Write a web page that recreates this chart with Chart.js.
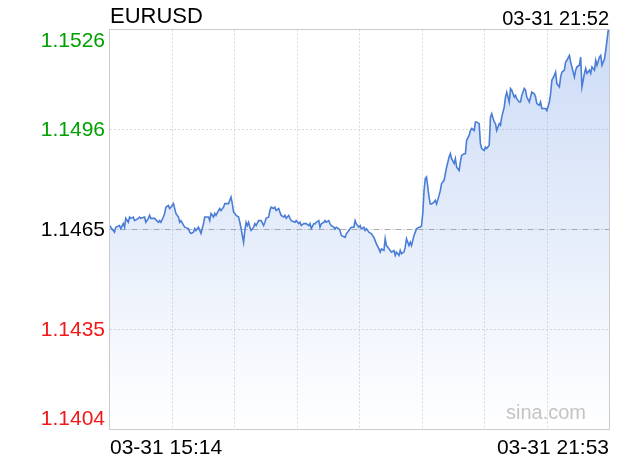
<!DOCTYPE html>
<html>
<head>
<meta charset="utf-8">
<title>EURUSD</title>
<script src="https://cdn.jsdelivr.net/npm/chart.js@4/dist/chart.umd.min.js"></script>
<style>
  body { margin: 0; background: #fff; }
  canvas { display: block; }
</style>
</head>
<body>
<canvas id="fx-chart" width="620" height="460"></canvas>
<script>
// Chart texts
const symbol = "EURUSD";
const lastTime = "03-31 21:52";
const xTickLabels = ["03-31 15:14", "03-31 21:53"];
const yTickLabels = ["1.1526", "1.1496", "1.1465", "1.1435", "1.1404"];

// Axis range and previous close
const yMax = 1.15262;
const yMin = 1.14042;
const prevClose = 1.14652;
const totalMinutes = 399;

// Minutes after 15:14
const minutes = [
  0,1,4,5,8,9,11,12,13,15,
  16,17,19,20,23,24,25,28,29,31,
  32,33,36,39,40,41,43,44,45,47,
  48,49,51,52,53,55,56,57,60,63,
  64,65,67,68,69,71,73,75,76,79,
  80,81,83,84,85,87,88,89,91,92,
  95,96,97,98,99,100,101,103,104,105,
  107,108,109,110,111,112,113,115,116,117,
  119,121,123,124,125,127,128,129,131,132,
  133,135,136,137,139,140,141,143,144,145,
  148,149,151,152,153,155,157,159,160,161,
  163,
  164,165,167,168,169,171,172,173,175,176,
  177,179,180,181,183,184,185,188,189,191,
  192,193,195,196,197,199,200,201,203,204,
  205,207,209,211,212,213,215,216,217,219,
  220,221,223,224,225,227,228,229,231,232,
  233,235,236,237,239,240,241,243,244,245,
  247,
  248,249,250,251,252,253,254,255,256,257,
  259,260,261,263,264,265,267,268,269,271,
  272,273,275,276,277,279,280,281,283,284,
  285,287,288,289,291,292,293,295,296,297,
  299,300,301,303,304,305,307,308,309,311,
  312,313,315,
  316,317,319,320,321,323,324,325,327,328,
  329,331,332,333,335,336,337,339,340,341,
  343,344,345,347,348,349,351,352,353,355,
  356,357,359,360,361,363,364,365,367,368,
  369,371,372,373,375,376,377,379,380,381,
  383,384,385,387,388,389,391,392,393,395,
  396,397,398,399
];

// EURUSD price at each minute
const prices = [
  1.14664,1.14659,1.14644,1.14659,1.14664,1.14655,1.14670,1.14659,1.14686,1.14674,
  1.14690,1.14686,1.14690,1.14679,1.14686,1.14690,1.14686,1.14690,1.14674,1.14686,
  1.14695,1.14686,1.14686,1.14674,1.14679,1.14674,1.14690,1.14701,1.14720,1.14725,
  1.14716,1.14720,1.14731,1.14716,1.14701,1.14690,1.14674,1.14679,1.14659,1.14655,
  1.14644,1.14640,1.14644,1.14655,1.14649,1.14659,1.14640,1.14670,1.14690,1.14690,
  1.14679,1.14701,1.14690,1.14701,1.14695,1.14710,1.14716,1.14710,1.14720,1.14731,
  1.14731,1.14741,1.14751,1.14731,1.14705,1.14701,1.14695,1.14690,1.14674,1.14655,
  1.14613,1.14649,1.14674,1.14664,1.14674,1.14659,1.14649,1.14659,1.14670,1.14664,
  1.14679,1.14679,1.14664,1.14674,1.14686,1.14690,1.14710,1.14720,1.14716,1.14720,
  1.14710,1.14716,1.14705,1.14695,1.14690,1.14695,1.14686,1.14695,1.14686,1.14679,
  1.14674,1.14679,1.14670,1.14674,1.14664,1.14670,1.14670,1.14664,1.14670,1.14655,
  1.14670,
  1.14669,1.14674,1.14679,1.14659,1.14669,1.14674,1.14679,1.14674,1.14679,1.14669,
  1.14664,1.14659,1.14654,1.14659,1.14654,1.14649,1.14634,1.14628,1.14639,1.14649,
  1.14654,1.14659,1.14659,1.14679,1.14669,1.14659,1.14664,1.14654,1.14659,1.14649,
  1.14654,1.14644,1.14639,1.14628,1.14618,1.14608,1.14593,1.14583,1.14593,1.14588,
  1.14624,1.14603,1.14593,1.14588,1.14583,1.14588,1.14573,1.14583,1.14573,1.14588,
  1.14578,1.14583,1.14598,1.14624,1.14603,1.14613,1.14603,1.14634,1.14644,1.14654,
  1.14659,
  1.14659,1.14664,1.14701,1.14771,1.14807,1.14812,1.14781,1.14751,1.14730,1.14730,
  1.14735,1.14741,1.14730,1.14756,1.14771,1.14792,1.14802,1.14822,1.14842,1.14873,
  1.14883,1.14868,1.14853,1.14868,1.14842,1.14832,1.14858,1.14878,1.14883,1.14883,
  1.14924,1.14939,1.14954,1.14960,1.14954,1.14980,1.14980,1.14975,1.14914,1.14899,
  1.14893,1.14903,1.14899,1.14909,1.14995,1.15005,1.14980,1.14975,1.14954,1.14975,
  1.14970,1.14995,1.15026,
  1.15056,1.15071,1.15041,1.15082,1.15077,1.15056,1.15061,1.15051,1.15041,1.15041,
  1.15061,1.15082,1.15077,1.15056,1.15041,1.15056,1.15071,1.15066,1.15056,1.15036,
  1.15031,1.15041,1.15021,1.15021,1.15021,1.15015,1.15041,1.15066,1.15107,1.15122,
  1.15132,1.15097,1.15087,1.15117,1.15132,1.15138,1.15163,1.15168,1.15183,1.15163,
  1.15148,1.15117,1.15138,1.15148,1.15153,1.15178,1.15087,1.15128,1.15143,1.15128,
  1.15138,1.15128,1.15148,1.15138,1.15168,1.15153,1.15178,1.15183,1.15153,1.15173,
  1.15199,1.15229,1.15260,1.15255
];

const FONT = 'Arial, "Liberation Sans", sans-serif';
const GRID = "#d9d9d9";

// Frame, previous close line and all the texts
const decorations = {
  id: "decorations",
  beforeDatasetsDraw(chart) {
    const ctx = chart.ctx;
    const area = chart.chartArea;
    const y = Math.floor(chart.scales.y.getPixelForValue(prevClose)) + 0.5;
    ctx.save();
    ctx.strokeStyle = "#ababab";
    ctx.lineWidth = 1;
    ctx.setLineDash([6, 2, 1, 2]);
    ctx.beginPath();
    ctx.moveTo(area.left, y);
    ctx.lineTo(area.right, y);
    ctx.stroke();
    ctx.restore();
  },
  afterDraw(chart) {
    const ctx = chart.ctx;
    const area = chart.chartArea;
    const yScale = chart.scales.y;
    ctx.save();

    // frame
    ctx.strokeStyle = "#cccccc";
    ctx.lineWidth = 1;
    ctx.strokeRect(area.left, area.top, area.right - area.left, area.bottom - area.top);

    // header
    ctx.fillStyle = "#000";
    ctx.textBaseline = "alphabetic";
    ctx.font = "22px " + FONT;
    ctx.textAlign = "left";
    ctx.fillText(symbol, 110, 23);
    ctx.font = "20px " + FONT;
    ctx.textAlign = "right";
    ctx.fillText(lastTime, 609, 25);

    // x labels
    ctx.font = "21px " + FONT;
    ctx.textAlign = "left";
    ctx.fillText(xTickLabels[0], 110, 454);
    ctx.textAlign = "right";
    ctx.fillText(xTickLabels[1], 609, 454);

    // y labels, green above previous close, red below
    const shift = [17, 6, 6, 6, -5];
    yScale.ticks.forEach((t, i) => {
      const label = yTickLabels[i];
      const v = parseFloat(label);
      ctx.fillStyle = v > 1.1465 ? "#00a000" : v < 1.1465 ? "#f01818" : "#000";
      ctx.fillText(label, 105, yScale.getPixelForValue(t.value) + shift[i]);
    });

    // watermark
    ctx.fillStyle = "#c4c4c4";
    ctx.font = "20px " + FONT;
    ctx.textAlign = "left";
    ctx.fillText("sina.com", 506, 419);
    ctx.restore();
  }
};

const points = minutes.map((m, i) => ({ x: m, y: prices[i] }));

new Chart(document.getElementById("fx-chart"), {
  type: "line",
  data: {
    datasets: [
      {
        data: points,
        borderColor: "#4a7ed6",
        borderWidth: 1.6,
        pointRadius: 0,
        tension: 0,
        fill: "start",
        backgroundColor: (c) => {
          const area = c.chart.chartArea;
          if (!area) return "rgba(120,160,230,0.2)";
          const g = c.chart.ctx.createLinearGradient(0, area.top, 0, area.bottom);
          g.addColorStop(0, "rgba(120,160,230,0.38)");
          g.addColorStop(1, "rgba(120,160,230,0)");
          return g;
        },
      },
    ],
  },
  options: {
    responsive: false,
    animation: false,
    devicePixelRatio: 1,
    layout: { padding: { left: 109.5, right: 10.5, top: 29.5, bottom: 30.5 } },
    plugins: { legend: { display: false }, tooltip: { enabled: false } },
    scales: {
      x: {
        type: "linear",
        min: 0,
        max: totalMinutes,
        afterBuildTicks: (s) => {
          s.ticks = [];
          for (let i = 0; i <= 8; i++) s.ticks.push({ value: (totalMinutes * i) / 8 });
        },
        afterFit: (s) => { s.height = 0; },
        ticks: { display: false },
        border: { display: false, dash: [2, 2] },
        grid: {
          drawTicks: false,
          color: (c) => (c.index === 0 || c.index === 8 ? "transparent" : GRID),
        },
      },
      y: {
        min: yMin,
        max: yMax,
        afterBuildTicks: (s) => {
          s.ticks = [];
          for (let i = 0; i <= 4; i++) s.ticks.push({ value: yMax - ((yMax - yMin) * i) / 4 });
        },
        afterFit: (s) => { s.width = 0; },
        ticks: { display: false },
        border: { display: false, dash: [2, 2] },
        grid: {
          drawTicks: false,
          color: (c) => (c.index === 0 || c.index === 2 || c.index === 4 ? "transparent" : GRID),
        },
      },
    },
  },
  plugins: [decorations],
});
</script>
</body>
</html>
